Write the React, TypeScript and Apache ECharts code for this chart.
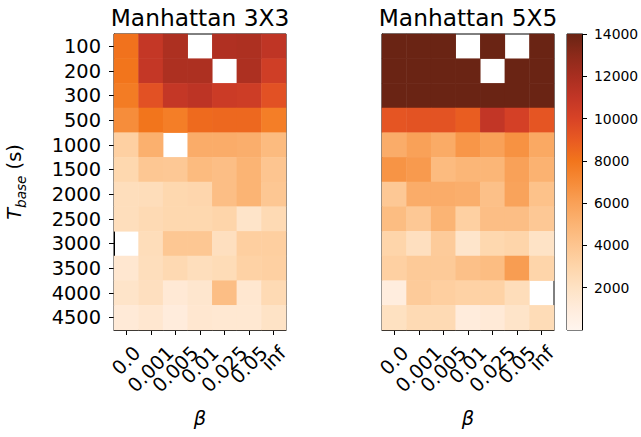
import React, { useEffect, useRef } from "react";
import * as echarts from "echarts";

const betaLabels = ["0.0", "0.001", "0.005", "0.01", "0.025", "0.05", "inf"];
const tbaseLabels = ["100", "200", "300", "500", "1000", "1500", "2000", "2500", "3000", "3500", "4000", "4500"];
const titles = ["Manhattan 3X3", "Manhattan 5X5"];
const colorbarMin = 0;
const colorbarMax = 14000;
const colorbarStep = 2000;

// rows: T_base (top to bottom), columns: beta; null = missing (white)
const manhattan3x3: (number | null)[][] = [
  [8100, 10900, 11800, null, 11700, 11800, 11100],
  [8000, 10900, 11800, 11800, null, 11800, 10400],
  [7700, 9400, 10900, 11200, 10600, 10500, 9400],
  [6900, 8000, 7600, 8400, 8500, 8500, 7600],
  [3300, 5200, null, 5400, 5400, 5300, 4600],
  [2800, 3900, 3800, 4600, 4400, 5000, 4000],
  [2300, 2400, 2800, 2900, 4400, 5000, 3900],
  [2300, 2600, 2800, 2800, 3000, 1800, 2600],
  [null, 2400, 3900, 3900, 2200, 3400, 3400],
  [1500, 2300, 2700, 2300, 2500, 3200, 3300],
  [1800, 2200, 1300, 1600, 4400, 1500, 2600],
  [1200, 1500, 1000, 1500, 1400, 1400, 1900],
];

const manhattan5x5: (number | null)[][] = [
  [14000, 14000, 14000, null, 14000, null, 14000],
  [14000, 14000, 14000, 14000, null, 14000, 14000],
  [14000, 14000, 14000, 14000, 14000, 14000, 14000],
  [9200, 9300, 9300, 8900, 11000, 10200, 9200],
  [5400, 6000, 5500, 6500, 6000, 6700, 5600],
  [6600, 6300, 4600, 4900, 4900, 6000, 5100],
  [3800, 5400, 5400, 5300, 4300, 5900, 4200],
  [4500, 3800, 5000, 3300, 4400, 4400, 3800],
  [3000, 2200, 3600, 1700, 2800, 3000, 1900],
  [3300, 3700, 3700, 4300, 4500, 6200, 3000],
  [900, 3600, 3400, 3200, 3200, 2400, null],
  [2100, 2600, 2600, 1000, 1200, 1800, 2500],
];

const cmap = [
  "#fff5ee", "#ffecdc", "#fee2c4", "#fed5aa", "#fdc590", "#fbb474", "#f9a158", "#f68b38",
  "#f2751c", "#e85a22", "#d84326", "#c23626", "#a82e20", "#8c2a1a", "#6a2414",
];

const FONT = "DejaVu Sans";
const TICK_FS = 19.4;

function toCells(rows: (number | null)[][]) {
  const out: number[][] = [];
  rows.forEach((row, yi) =>
    row.forEach((v, xi) => {
      if (v !== null) out.push([xi, yi, v]);
    })
  );
  return out;
}

const charW: Record<string, number> = { "0": 0.636, "1": 0.636, "2": 0.636, "5": 0.636, ".": 0.318, i: 0.278, n: 0.634, f: 0.352 };
function textW(s: string) {
  let w = 0;
  for (const c of s) w += charW[c] ?? 0.6;
  return w * TICK_FS;
}

const LH = 22;
const richX: Record<string, any> = {};
betaLabels.forEach((lab, i) => {
  const p = (textW(lab) + LH) / 2;
  richX["r" + i] = {
    fontSize: TICK_FS,
    fontFamily: FONT,
    color: "#000",
    lineHeight: LH,
    padding: [p, p, 0, 0],
  };
});

export default function App() {
  const ref = useRef<HTMLDivElement>(null);
  useEffect(() => {
    if (!ref.current) return;
    const chart = echarts.init(ref.current, undefined, { renderer: "svg" });
    const grids = [
      { left: 114, top: 34, width: 172, height: 296 },
      { left: 382, top: 34, width: 172, height: 296 },
      { left: 567, top: 34, width: 15, height: 296 },
    ].map((g) => ({ ...g, show: true, borderColor: "#000", borderWidth: 1, backgroundColor: "transparent", outerBoundsMode: "none" }));

    const xAxisFor = (gi: number) => ({
      type: "category",
      gridIndex: gi,
      data: betaLabels,
      axisLine: { show: true, lineStyle: { color: "#000", width: 1 } },
      axisTick: { show: true, alignWithLabel: true, length: 5, lineStyle: { color: "#000" } },
      axisLabel: {
        interval: 0,
        rotate: 45,
        align: "center",
        verticalAlign: "middle",
        margin: 12,
        formatter: (v: string, i: number) => `{r${i}|${v}}`,
        rich: richX,
      },
      name: "β",
      nameLocation: "middle",
      nameGap: 76,
      nameTextStyle: { fontSize: TICK_FS, fontStyle: "italic", fontFamily: FONT, color: "#000", lineHeight: 24 },
      splitLine: { show: false },
    });

    const option: any = {
      animation: false,
      backgroundColor: "#fff",
      title: titles.map((t, i) => ({
        text: t,
        left: i === 0 ? 200 : 468,
        top: 5,
        textAlign: "center",
        padding: 0,
        textStyle: { fontSize: 23.3, fontWeight: "normal", fontFamily: FONT, color: "#000", lineHeight: 24 },
      })),
      grid: grids,
      xAxis: [
        xAxisFor(0),
        xAxisFor(1),
        { type: "category", gridIndex: 2, data: [""], show: false },
      ],
      yAxis: [
        {
          type: "category",
          gridIndex: 0,
          data: tbaseLabels,
          inverse: true,
          axisLine: { show: true, lineStyle: { color: "#000", width: 1 } },
          axisTick: { show: true, alignWithLabel: true, length: 5, lineStyle: { color: "#000" } },
          axisLabel: { interval: 0, fontSize: TICK_FS, fontFamily: FONT, color: "#000", margin: 13 },
          name: "{t|T}{s|base}{n| (s)}",
          nameLocation: "middle",
          nameGap: 86,
          nameRotate: 90,
          nameTextStyle: {
            rich: {
              t: { fontSize: TICK_FS, fontStyle: "italic", fontFamily: FONT, color: "#000", lineHeight: 28, verticalAlign: "middle" },
              s: { fontSize: 13.6, fontStyle: "italic", fontFamily: FONT, color: "#000", lineHeight: 14, verticalAlign: "bottom" },
              n: { fontSize: TICK_FS, fontFamily: FONT, color: "#000", lineHeight: 28, verticalAlign: "middle" },
            },
          },
          splitLine: { show: false },
        },
        {
          type: "category",
          gridIndex: 1,
          data: tbaseLabels,
          inverse: true,
          axisLine: { show: true, lineStyle: { color: "#000", width: 1 } },
          axisTick: { show: false },
          axisLabel: { show: false },
          splitLine: { show: false },
        },
        {
          type: "value",
          gridIndex: 2,
          position: "right",
          min: colorbarMin,
          max: colorbarMax,
          interval: colorbarStep,
          axisLine: { show: true, lineStyle: { color: "#000", width: 1 } },
          axisTick: { show: true, length: 5, lineStyle: { color: "#000" } },
          axisLabel: {
            showMinLabel: false,
            fontSize: 13.9,
            fontFamily: FONT,
            color: "#000",
            margin: 12,
            formatter: (v: number) => String(v),
          },
          splitLine: { show: false },
        },
      ],
      visualMap: {
        type: "continuous",
        show: false,
        min: colorbarMin,
        max: colorbarMax,
        seriesIndex: [0, 1],
        inRange: { color: cmap },
      },
      series: [
        {
          type: "heatmap",
          xAxisIndex: 0,
          yAxisIndex: 0,
          data: toCells(manhattan3x3),
          emphasis: { disabled: true },
        },
        {
          type: "heatmap",
          xAxisIndex: 1,
          yAxisIndex: 1,
          data: toCells(manhattan5x5),
          emphasis: { disabled: true },
        },
        {
          type: "bar",
          xAxisIndex: 2,
          yAxisIndex: 2,
          data: [colorbarMax],
          barWidth: "100%",
          silent: true,
          itemStyle: {
            color: new echarts.graphic.LinearGradient(
              0, 1, 0, 0,
              cmap.map((c, i) => ({ offset: i / (cmap.length - 1), color: c }))
            ),
          },
        },
      ],
    };
    chart.setOption(option);
    return () => chart.dispose();
  }, []);
  return <div ref={ref} style={{ position: "fixed", left: 0, top: 0, width: 641, height: 437 }} />;
}
